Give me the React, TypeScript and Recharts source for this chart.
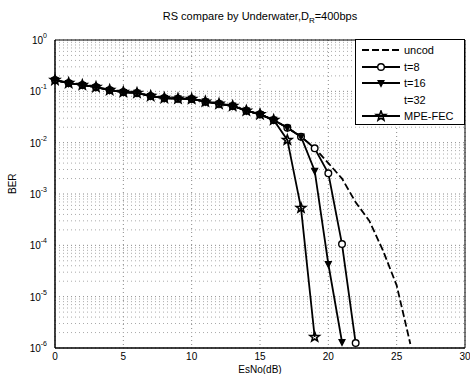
import React from 'react';
import {
  LineChart,
  Line,
  XAxis,
  YAxis,
  CartesianGrid,
  ReferenceLine,
  ReferenceArea,
  Label,
} from 'recharts';

const esNo = [0, 1, 2, 3, 4, 5, 6, 7, 8, 9, 10, 11, 12, 13, 14, 15, 16, 17, 18, 19, 20, 21, 22, 23, 24, 25, 26];

const uncod = [
  0.166, 0.145, 0.133, 0.121, 0.106, 0.097, 0.093, 0.081, 0.074, 0.072, 0.071, 0.063, 0.057, 0.052,
  0.042, 0.0357, 0.0277, 0.0195, 0.0131, 0.0079, 0.004, 0.002, 0.00069, 0.0003, 0.000079, 0.0000166,
  0.0000012,
];
const t8 = [
  0.166, 0.145, 0.133, 0.121, 0.106, 0.097, 0.093, 0.081, 0.074, 0.072, 0.071, 0.063, 0.057, 0.052,
  0.042, 0.0357, 0.0277, 0.0195, 0.0131, 0.00776, 0.00253, 0.000106, 0.00000125,
];
const t16 = [
  0.166, 0.145, 0.133, 0.121, 0.106, 0.097, 0.093, 0.081, 0.074, 0.072, 0.071, 0.063, 0.057, 0.052,
  0.042, 0.0357, 0.0277, 0.0195, 0.0131, 0.00284, 0.0000433, 0.00000131,
];
const mpeFec = [
  0.166, 0.145, 0.133, 0.121, 0.106, 0.097, 0.093, 0.081, 0.074, 0.072, 0.071, 0.063, 0.057, 0.052,
  0.042, 0.0357, 0.0277, 0.0113, 0.000535, 0.00000164,
];

const xTicks = [0, 5, 10, 15, 20, 25, 30];
const yTicks = [1e-6, 1e-5, 1e-4, 1e-3, 1e-2, 1e-1, 1];
const legendNames = ['uncod', 't=8', 't=16', 't=32', 'MPE-FEC'];

const data = esNo.map((x, i) => ({
  x,
  uncod: uncod[i],
  t8: t8[i],
  t16: t16[i],
  mpe: mpeFec[i],
}));

// minor log grid lines (2..9 x each decade)
const minorY = yTicks.slice(0, -1).flatMap((d) => [2, 3, 4, 5, 6, 7, 8, 9].map((k) => k * d));

const FONT = '"Liberation Sans", Arial, sans-serif';

const starPath = (cx: number, cy: number, R: number) => {
  const r = R * 0.42;
  let d = '';
  for (let i = 0; i < 10; i++) {
    const rad = i % 2 === 0 ? R : r;
    const a = -Math.PI / 2 + (i * Math.PI) / 5;
    d += (i === 0 ? 'M' : 'L') + (cx + rad * Math.cos(a)).toFixed(2) + ',' + (cy + rad * Math.sin(a)).toFixed(2);
  }
  return d + 'Z';
};

const circleDot = (p: any) => {
  if (p.cx == null || p.cy == null || p.value == null) return <g key={p.index} />;
  return <circle key={p.index} cx={p.cx} cy={p.cy} r={3.3} fill="#fff" stroke="#000" strokeWidth={1.4} />;
};

const triDot = (p: any) => {
  if (p.cx == null || p.cy == null || p.value == null) return <g key={p.index} />;
  const { cx, cy } = p;
  return (
    <path
      key={p.index}
      d={`M${cx - 3},${cy - 2.5}L${cx + 3},${cy - 2.5}L${cx},${cy + 3.5}Z`}
      fill="#000"
      stroke="#000"
      strokeWidth={1.2}
    />
  );
};

const starDot = (p: any) => {
  if (p.cx == null || p.cy == null || p.value == null) return <g key={p.index} />;
  return <path key={p.index} d={starPath(p.cx, p.cy, 5)} fill="none" stroke="#000" strokeWidth={1.6} />;
};

const YTick = ({ y, payload }: any) => {
  const e = Math.round(Math.log10(payload.value));
  return (
    <text x={47} y={y + 4} textAnchor="end" fontSize={10} fontFamily={FONT} fill="#000">
      <tspan>10</tspan>
      <tspan dy={-6} fontSize={7}>
        {e}
      </tspan>
    </text>
  );
};

const XTick = ({ x, payload }: any) => (
  <text x={x} y={360} textAnchor="middle" fontSize={10} fontFamily={FONT} fill="#000">
    {payload.value}
  </text>
);

const LegendIcon = ({ i }: { i: number }) => {
  const cx = 19;
  const cy = 6;
  if (i === 0) return <line x1={0} y1={cy} x2={38} y2={cy} stroke="#000" strokeWidth={1.8} strokeDasharray="7 3" />;
  if (i === 3) return null;
  return (
    <g>
      <line x1={0} y1={cy} x2={38} y2={cy} stroke="#000" strokeWidth={1.8} />
      {i === 1 && circleDot({ cx, cy, value: 1, index: 0 })}
      {i === 2 && triDot({ cx, cy, value: 1, index: 0 })}
      {i === 4 && starDot({ cx, cy, value: 1, index: 0 })}
    </g>
  );
};

export default function App() {
  return (
    <div style={{ position: 'absolute', left: 0, top: 0, width: 470, height: 374, background: '#fff', fontFamily: FONT }}>
      <div
        style={{
          position: 'absolute',
          top: 10,
          left: 55,
          width: 410,
          textAlign: 'center',
          fontSize: 11,
          color: '#000',
        }}
      >
        RS compare by Underwater,D<sub style={{ fontSize: 8 }}>R</sub>=400bps
      </div>
      <LineChart width={470} height={374} data={data} margin={{ top: 40, right: 5, bottom: 0, left: 0 }}>
        <CartesianGrid stroke="#888" strokeDasharray="1 3" />
        {minorY.map((v) => (
          <ReferenceLine key={v} y={v} stroke="#aaa" strokeDasharray="1 3" />
        ))}
        <XAxis
          dataKey="x"
          type="number"
          domain={[0, 30]}
          ticks={xTicks}
          tick={<XTick />}
          tickLine={false}
          axisLine={{ stroke: '#000' }}
          height={26}
          interval={0}
        >
          <Label value="EsNo(dB)" position="insideBottom" offset={1} fontSize={10} fill="#000" fontFamily={FONT} />
        </XAxis>
        <YAxis
          type="number"
          scale="log"
          domain={[1e-6, 1]}
          ticks={yTicks}
          tick={<YTick />}
          tickLine={false}
          axisLine={{ stroke: '#000' }}
          width={55}
          allowDataOverflow
          interval={0}
        >
          <Label value="BER" angle={-90} position="insideLeft" offset={12} fontSize={10} fill="#000" fontFamily={FONT} />
        </YAxis>
        <ReferenceArea x1={0} x2={30} y1={1e-6} y2={1} fill="none" stroke="#000" strokeWidth={1} />
        <Line dataKey="uncod" stroke="#000" strokeWidth={1.8} strokeDasharray="7 3" dot={false} isAnimationActive={false} />
        <Line dataKey="t8" stroke="#000" strokeWidth={1.8} dot={circleDot} isAnimationActive={false} />
        <Line dataKey="t16" stroke="#000" strokeWidth={1.8} dot={triDot} isAnimationActive={false} />
        <Line dataKey="mpe" stroke="#000" strokeWidth={1.8} dot={starDot} isAnimationActive={false} />
      </LineChart>
      <div
        style={{
          position: 'absolute',
          left: 355,
          top: 39,
          width: 110,
          height: 86,
          border: '1px solid #000',
          background: '#fff',
          boxSizing: 'border-box',
          paddingTop: 2,
        }}
      >
        {legendNames.map((name, i) => (
          <div key={name} style={{ display: 'flex', alignItems: 'center', height: 16.5, fontSize: 11 }}>
            <svg width={40} height={12} style={{ marginLeft: 6, marginRight: 2 }}>
              <LegendIcon i={i} />
            </svg>
            <span>{name}</span>
          </div>
        ))}
      </div>
    </div>
  );
}
